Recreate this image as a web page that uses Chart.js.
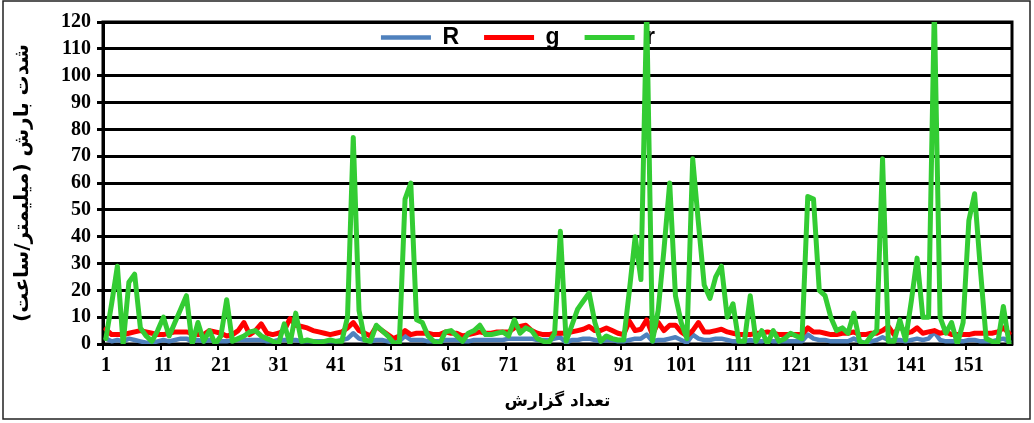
<!DOCTYPE html>
<html><head><meta charset="utf-8">
<script src="https://cdn.jsdelivr.net/npm/chart.js@4/dist/chart.umd.min.js"></script>
<style>html,body{margin:0;padding:0;background:#fff}canvas{display:block}</style>
</head><body>
<canvas id="c" width="1034" height="423" style="width:1034px;height:423px"></canvas>
<script>
// report numbers 1..158
const categories = Array.from({length: 158}, (_, i) => String(i + 1));
const xTickLabels = ['1','11','21','31','41','51','61','71','81','91','101','111','121','131','141','151'];
const yTickValues = [0,10,20,30,40,50,60,70,80,90,100,110,120];
const seriesNames = ['R', 'g', 'r'];

const valuesR = [
  2,1,1.5,1,2,1.5,1,0.5,0.5,1,
  1.5,1,1.5,2,2,1,1.5,1,1.5,1,
  1,1,1.5,1.5,1.5,1.5,1.5,1.5,1,1,
  1.5,1.5,1.5,1.5,1,1,1,1,1,1,
  1,1.5,2,4,2,1.5,1,1.5,1.5,1,
  0.5,1,3,1.5,1.5,1.5,1,1,1,1.5,
  1.5,1.5,1,1,1.5,1.5,1.5,1.5,1.5,1.5,
  2,2,2,2,2,1.5,1.5,1.5,2,2.5,
  0.5,1.5,1.5,2,2,1.5,1,1.5,1.5,1,
  1,1.5,2,2,3.5,1,1.5,1.5,2,2.5,
  1.5,0.5,3.5,2,1.5,1.5,2,2,1.5,1,
  1,1,1.5,1,1,1.5,1,1,1,1,
  1,1,3.5,2,1.5,1.5,1,1,1,1,
  2,1,0.5,1,1.5,2.5,1.5,1.5,1.5,1,
  1.5,2,1.5,2,4.5,1.5,1,1,1,1,
  1.5,1.5,1,1,1,1.5,2,1
];
const valuesG = [
  5.5,3.5,3.5,3.5,4,4.5,5,4.5,4,3.5,
  3.5,4,4.5,4.5,4.5,4,3.5,3.5,5,4.5,
  4,3,3.5,5,8,3.5,5,7.5,4,3.5,
  4,5,9.5,7,6.5,6,5,4.5,4,3.5,
  4,4.5,6,8,5,4,3,6.5,5,3.5,
  2,3,5,3.5,4,4,4,3.5,3.5,4.5,
  4,4,3,3.5,4,4.5,4,4,4.5,4.5,
  4.5,6,6.5,7,5,4,3.5,3.5,4,4,
  4,4.5,5,5.5,6.5,5,5,6,5,4,
  3.5,8.5,5,5.5,9,3.5,8,5,7,7,
  4.5,3,5,8,4.5,4.5,5,5.5,4.5,4,
  3.5,3.5,3.5,4,4,4.5,4,3.5,3.5,3.5,
  3.5,3.5,6,4.5,4.5,4,3.5,3.5,4,4,
  4.5,3.5,3.5,4,4,5,6.5,3.5,7,4,
  4.5,6,4,4.5,5,4,4.5,3.5,3.5,3.5,
  3.5,4,4,4,4,4.5,6,4
];
const valuesLowR = [
  2,15,29,0,23,26,6,3,1,5,
  10,3,8,13,18,0,8,1,5,0,
  3,16.5,1,2,3,4.5,5,3,2,1,
  0,7.5,0,11.5,1,1.5,1,0.5,1,1.5,
  1,1,10,77,12.5,1.5,1,7,5,3,
  0.5,0,54,60,9,8,3,1,0,4.5,
  5,3,1,4,5,7,3.5,3.5,4,4.5,
  3,9,4,6,5,2,1,0.5,4,42,
  1,7,13,16,19,8,1,3,2,1.5,
  1.5,20,40,24,125,1,12.5,35,60,18,
  8,2,69,45,22,17,25,29,10,15,
  1,1,18,1,5,0,5,1,2,4,
  3,2,55,54,20,18,10,5,6,4,
  11.5,1,0,3,5,69,1,1,9,1.5,
  16,32,10,10,125,10,4,8,0,8,
  46,56,28,2,1,0,14,0
];
const seriesColors = ['#4F81BD', '#FF0000', '#33CC33'];

const numFont = {family: '"Liberation Serif", "Times New Roman", serif', size: 20, weight: 'bold'};
const faFont = {family: '"DejaVu Sans", sans-serif', size: 17, weight: 'bold'};

const framePlugin = {
  id: 'frame',
  beforeLayout(chart) {
    const lg = chart.legend;
    if (lg && !lg._patched) {
      const f = lg.fit;
      lg.fit = function () { f.call(this); this._realH = this.height; this.height = 0; };
      lg._patched = true;
    }
  },
  afterLayout(chart) {
    const lg = chart.legend;
    if (lg) {
      lg.top = chart.chartArea.top - 21;
      lg.bottom = lg.top + (lg._realH || 0);
      lg.height = lg._realH || 0;
      lg.left += 12; lg.right += 12;
    }
  },
  beforeDatasetsDraw(chart) {
    const {ctx, chartArea: a} = chart;
    ctx.save();
    ctx.strokeStyle = '#000';
    ctx.lineWidth = 3;
    ctx.strokeRect(a.left, a.top, a.right - a.left, a.bottom - a.top);
    ctx.restore();
  },
  afterDraw(chart) {
    const {ctx} = chart;
    ctx.save();
    ctx.strokeStyle = '#222';
    ctx.lineWidth = 1.5;
    ctx.strokeRect(3, 1, 1027, 418);
    ctx.restore();
  }
};

const mk = (i, data, w, order) => ({
  label: seriesNames[i], data, borderColor: seriesColors[i], backgroundColor: seriesColors[i],
  borderWidth: w, pointRadius: 0, tension: 0, fill: false,
  borderJoinStyle: 'round', borderCapStyle: 'round', order
});

new Chart(document.getElementById('c'), {
  type: 'line',
  data: {
    labels: categories,
    datasets: [mk(0, valuesR, 4.5, 3), mk(1, valuesG, 5, 2), mk(2, valuesLowR, 5, 1)]
  },
  plugins: [framePlugin],
  options: {
    responsive: false, animation: false, devicePixelRatio: 1,
    layout: {padding: {left: 0, top: 22, right: 22, bottom: 0}},
    plugins: {
      tooltip: {enabled: false},
      legend: {
        position: 'top', align: 'center', fullSize: true,
        labels: {
          usePointStyle: true, pointStyle: 'line', pointStyleWidth: 50,
          font: {family: '"Liberation Sans", Arial, sans-serif', size: 23, weight: 'bold'},
          color: '#000', padding: 25,
          sort: (a, b) => a.datasetIndex - b.datasetIndex
        }
      }
    },
    scales: {
      x: {
        type: 'category', offset: true,
        grid: {
          display: true, drawOnChartArea: false, drawTicks: true, tickLength: 6, offset: true,
          color: ctx => (ctx.index % 10 === 0 ? '#000' : 'rgba(0,0,0,0)'), lineWidth: 2
        },
        border: {display: true, color: '#000', width: 3},
        ticks: {
          autoSkip: false, maxRotation: 0, color: '#000', font: numFont, padding: 4,
          callback: function (v) { const l = this.getLabelForValue(v); return xTickLabels.includes(l) ? l : ''; }
        },
        title: {display: true, text: 'تعداد گزارش', color: '#000', font: faFont, padding: {top: 0, bottom: 11}},
        afterFit: s => { s.height = 79; }
      },
      y: {
        min: 0, max: 120,
        afterBuildTicks: s => { s.ticks = yTickValues.map(v => ({value: v})); },
        grid: {color: '#000', lineWidth: 3, tickLength: 6, drawTicks: true},
        border: {display: true, color: '#000', width: 3},
        ticks: {color: '#000', font: numFont, padding: 6, autoSkip: false, stepSize: 10},
        title: {display: true, text: 'شدت بارش (میلیمتر/ساعت)', color: '#000', font: {...faFont, size: 20}, padding: {top: 11, bottom: 0}},
        afterFit: s => { s.width = 103; }
      }
    }
  }
});
</script>
</body></html>
